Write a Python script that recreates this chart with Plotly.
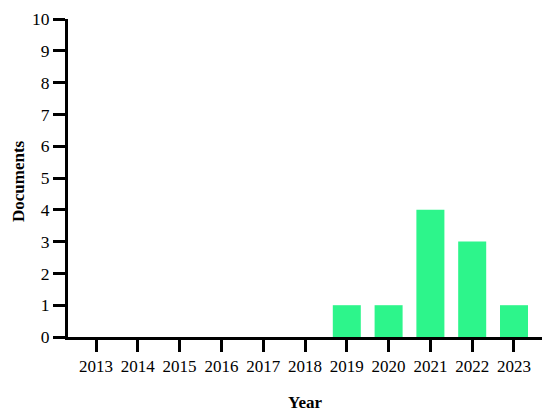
import plotly.graph_objects as go

years = ["2013", "2014", "2015", "2016", "2017", "2018", "2019", "2020", "2021", "2022", "2023"]
documents = [0, 0, 0, 0, 0, 0, 1, 1, 4, 3, 1]
y_ticks = list(range(0, 11))

font_family = "Palatino Linotype, Book Antiqua, Palatino, Liberation Serif, serif"

fig = go.Figure(
    go.Bar(
        x=years,
        y=documents,
        marker=dict(color="#2DF58B", line=dict(width=0)),
        width=0.67,
    )
)

# The page body adds an 8px margin, so the figure is sized to fit inside the window
fig.update_layout(
    width=542,
    height=409,
    margin=dict(l=60, r=8, t=11, b=80),
    plot_bgcolor="white",
    paper_bgcolor="white",
    font=dict(family=font_family, size=17, color="black"),
    showlegend=False,
)

fig.update_xaxes(
    type="category",
    range=[-0.67, 10.67],
    showline=True,
    linecolor="black",
    linewidth=3,
    ticks="outside",
    ticklen=12,
    tickwidth=3,
    tickcolor="black",
    showgrid=False,
    zeroline=False,
    automargin=False,
    tickfont=dict(size=17),
)

fig.update_yaxes(
    range=[0, 10],
    tickvals=y_ticks,
    showline=True,
    linecolor="black",
    linewidth=3,
    ticks="outside",
    ticklen=12,
    tickwidth=3,
    tickcolor="black",
    showgrid=False,
    zeroline=False,
    automargin=False,
    tickfont=dict(size=17.5),
)

fig.add_annotation(
    text="<b>Year</b>", xref="paper", yref="paper",
    x=0.5, y=0, yshift=-65, showarrow=False,
    font=dict(size=17), xanchor="center", yanchor="middle",
)
fig.add_annotation(
    text="<b>Documents</b>", xref="paper", yref="paper",
    x=0, y=0.5, xshift=-50, yshift=-3, showarrow=False, textangle=-90,
    font=dict(size=17), xanchor="center", yanchor="middle",
)

fig.write_html("out.html")
